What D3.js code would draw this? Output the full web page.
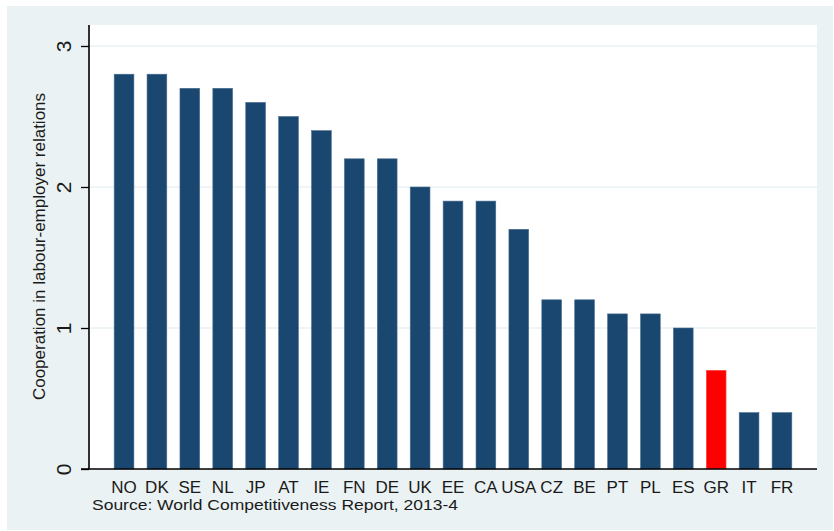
<!DOCTYPE html>
<html>
<head>
<meta charset="utf-8">
<script src="https://cdn.jsdelivr.net/npm/d3@7"></script>
<style>
  html, body { margin: 0; padding: 0; background: #ffffff; }
  svg { display: block; }
  text { font-family: "Liberation Sans", Arial, sans-serif; fill: #1a1a1a; }
</style>
</head>
<body>
<svg id="chart" width="834" height="531"></svg>
<script>
const countries = ["NO","DK","SE","NL","JP","AT","IE","FN","DE","UK","EE","CA","USA","CZ","BE","PT","PL","ES","GR","IT","FR"];
const values = [2.8,2.8,2.7,2.7,2.6,2.5,2.4,2.2,2.2,2.0,1.9,1.9,1.7,1.2,1.2,1.1,1.1,1.0,0.7,0.4,0.4];
const highlight = ["GR"];
const yTicks = [0,1,2,3];
const yTitle = "Cooperation in labour-employer relations";
const note = "Source: World Competitiveness Report, 2013-4";

const svg = d3.select("#chart");
const W = 834, H = 531;
const plot = {left: 89, right: 817, top: 25, bottom: 469};

// outer graph region
svg.append("rect").attr("x", 7).attr("y", 6).attr("width", W - 8).attr("height", H - 7)
  .attr("fill", "#eaf2f3");
// plot region
svg.append("rect").attr("x", plot.left).attr("y", plot.top)
  .attr("width", plot.right - plot.left).attr("height", plot.bottom - plot.top)
  .attr("fill", "#ffffff");

const x = d3.scaleBand().domain(countries).range([plot.left, plot.right])
  .paddingInner(0.4).paddingOuter(0.765);
const y = d3.scaleLinear().domain([0, 3]).range([plot.bottom, plot.bottom - 3 * 141]);

// gridlines
svg.append("g").selectAll("line").data(yTicks.filter(d => d > 0)).join("line")
  .attr("x1", plot.left).attr("x2", plot.right)
  .attr("y1", d => y(d)).attr("y2", d => y(d))
  .attr("stroke", "#eaf2f3").attr("stroke-width", 1.5);

// bars
svg.append("g").selectAll("rect").data(countries).join("rect")
  .attr("x", d => x(d)).attr("width", x.bandwidth())
  .attr("y", (d, i) => y(values[i])).attr("height", (d, i) => y(0) - y(values[i]))
  .attr("fill", d => highlight.includes(d) ? "#ff0000" : "#1a476f")
  .attr("stroke", d => highlight.includes(d) ? "#ff4a4a" : "#4a6f90").attr("stroke-width", 0.6);

// y axis
const yAxis = d3.axisLeft(y).tickValues(yTicks).tickSize(8).tickFormat(d3.format("d"));
const gy = svg.append("g").attr("transform", `translate(${plot.left},0)`).call(yAxis);
gy.select(".domain").attr("d", `M0,${plot.top}V${plot.bottom}`).attr("stroke", "#000").attr("stroke-width", 1.6);
gy.selectAll(".tick line").attr("stroke", "#000").attr("stroke-width", 1.3);
gy.selectAll(".tick text")
  .attr("x", null).attr("dy", null)
  .attr("transform", "translate(-18,0) rotate(-90)")
  .attr("text-anchor", "middle")
  .attr("font-size", 21).attr("fill", "#1a1a1a")
  .style("font-family", "'Liberation Sans Narrow', 'Liberation Sans', Arial, sans-serif");

// x axis
const xAxis = d3.axisBottom(x).tickSize(0).tickPadding(0);
const gx = svg.append("g").attr("transform", `translate(0,${plot.bottom})`).call(xAxis);
gx.select(".domain").attr("d", `M${plot.left - 8},0H${plot.right}`).attr("stroke", "#000").attr("stroke-width", 1.6);
gx.selectAll(".tick text").attr("y", 24).attr("dy", null)
  .attr("font-size", 17).attr("fill", "#1a1a1a");

// y title
svg.append("text")
  .attr("transform", `translate(45,${(88 + 405) / 2}) rotate(-90)`)
  .attr("text-anchor", "middle").attr("font-size", 17)
  .text(yTitle);

// note
svg.append("text").attr("x", 92).attr("y", 510)
  .attr("font-size", 15).attr("textLength", 366).attr("lengthAdjust", "spacingAndGlyphs")
  .text(note);
</script>
</body>
</html>
